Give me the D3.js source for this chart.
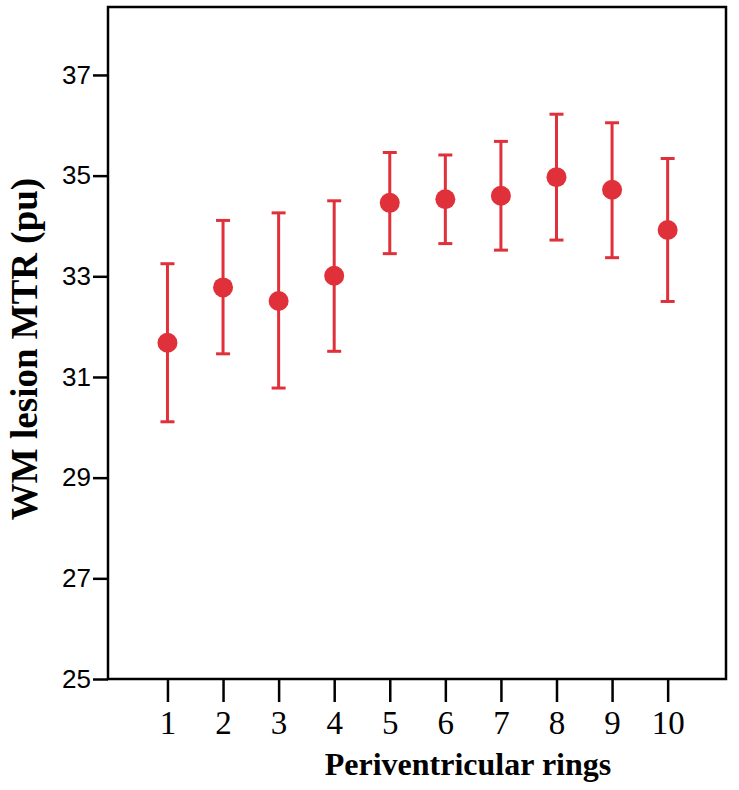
<!DOCTYPE html>
<html lang="en">
<head>
    <meta charset="UTF-8">
    <script src="https://d3js.org/d3.v7.min.js"></script>
    <title>WM lesion MTR</title>
    <style>
        body { margin: 0; background: #fff; }
    </style>
</head>
<body>
    <div id="chart"></div>
    <script>
        // data
        const rings = [1, 2, 3, 4, 5, 6, 7, 8, 9, 10];
        const mtrMean = [31.68, 32.78, 32.51, 33.01, 34.46, 34.53, 34.60, 34.97, 34.72, 33.92];
        const mtrLow = [30.11, 31.46, 30.78, 31.51, 33.45, 33.65, 33.52, 33.72, 33.37, 32.50];
        const mtrHigh = [33.25, 34.11, 34.26, 34.50, 35.46, 35.41, 35.68, 36.22, 36.05, 35.34];
        const yTicks = [25, 27, 29, 31, 33, 35, 37];

        const width = 739, height = 790;
        const plotLeft = 108, plotRight = 726, plotTop = 7, plotBottom = 679;
        const red = "#e0313a";

        const svg = d3.select("#chart").append("svg")
            .attr("width", width)
            .attr("height", height);

        const x = d3.scaleLinear().domain([-0.07, 11.05]).range([plotLeft, plotRight]);
        const y = d3.scaleLinear().domain([25, 38.35]).range([plotBottom, plotTop]);

        // y axis
        const yAxis = svg.append("g")
            .attr("transform", `translate(${plotLeft},0)`)
            .call(d3.axisLeft(y).tickValues(yTicks).tickSize(15).tickPadding(2).tickFormat(d3.format("d")));
        yAxis.select(".domain").remove();
        yAxis.selectAll(".tick line").attr("stroke", "#000").attr("stroke-width", 2.5);
        yAxis.selectAll(".tick text")
            .attr("font-family", "Liberation Sans, Arial, sans-serif")
            .attr("font-size", 26)
            .attr("fill", "#000");

        // x axis
        const xAxis = svg.append("g")
            .attr("transform", `translate(0,${plotBottom})`)
            .call(d3.axisBottom(x).tickValues(rings).tickSize(23).tickPadding(9).tickFormat(d3.format("d")));
        xAxis.select(".domain").remove();
        xAxis.selectAll(".tick line").attr("stroke", "#000").attr("stroke-width", 2.5);
        xAxis.selectAll(".tick text")
            .attr("font-family", "Liberation Serif, Times New Roman, serif")
            .attr("font-size", 33)
            .attr("fill", "#000");

        // frame
        svg.append("rect")
            .attr("x", plotLeft)
            .attr("y", plotTop)
            .attr("width", plotRight - plotLeft)
            .attr("height", plotBottom - plotTop)
            .attr("fill", "none")
            .attr("stroke", "#000")
            .attr("stroke-width", 2.5);

        // error bars
        const bars = svg.append("g").attr("stroke", red).attr("stroke-width", 3);
        rings.forEach(function (r, i) {
            const cx = x(r);
            bars.append("line")
                .attr("x1", cx).attr("x2", cx)
                .attr("y1", y(mtrLow[i])).attr("y2", y(mtrHigh[i]));
            bars.append("line")
                .attr("x1", cx - 7).attr("x2", cx + 7)
                .attr("y1", y(mtrHigh[i])).attr("y2", y(mtrHigh[i]));
            bars.append("line")
                .attr("x1", cx - 7).attr("x2", cx + 7)
                .attr("y1", y(mtrLow[i])).attr("y2", y(mtrLow[i]));
        });

        svg.append("g").selectAll("circle")
            .data(rings)
            .enter()
            .append("circle")
            .attr("cx", d => x(d))
            .attr("cy", (d, i) => y(mtrMean[i]))
            .attr("r", 10)
            .attr("fill", red);

        // titles
        svg.append("text")
            .attr("x", 468)
            .attr("y", 775)
            .attr("text-anchor", "middle")
            .attr("font-family", "Liberation Serif, Times New Roman, serif")
            .attr("font-weight", "bold")
            .attr("font-size", 32)
            .text("Periventricular rings");

        svg.append("text")
            .attr("transform", "translate(37,349) rotate(-90)")
            .attr("text-anchor", "middle")
            .attr("font-family", "Liberation Serif, Times New Roman, serif")
            .attr("font-weight", "bold")
            .attr("font-size", 37)
            .text("WM lesion MTR (pu)");
    </script>
</body>
</html>
